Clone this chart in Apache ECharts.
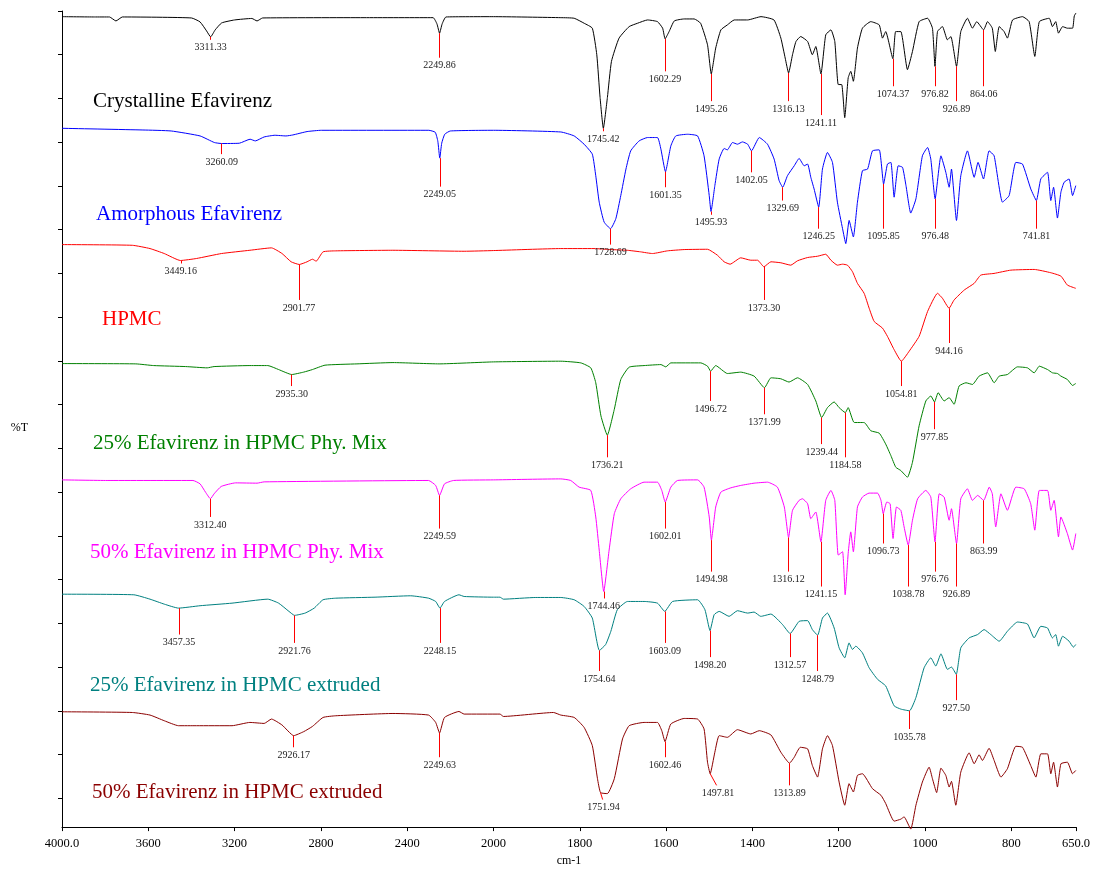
<!DOCTYPE html>
<html>
<head>
<meta charset="utf-8">
<script src="https://cdn.jsdelivr.net/npm/echarts@6/dist/echarts.min.js"></script>
<style>
  html, body { margin: 0; padding: 0; background: #fff; }
  #chart { width: 1094px; height: 872px; }
</style>
</head>
<body>
<div id="chart"></div>
<script>
// ---------------- DATA (wavenumber cm-1, stacked %T value) ----------------
const tickWavenumbers = [4000, 3600, 3200, 2800, 2400, 2000, 1800, 1600, 1400, 1200, 1000, 800, 650];

const seriesNames = [
  'Crystalline Efavirenz',
  'Amorphous Efavirenz',
  'HPMC',
  '25% Efavirenz in HPMC Phy. Mix',
  '50% Efavirenz in HPMC Phy. Mix',
  '25% Efavirenz in HPMC extruded',
  '50% Efavirenz in HPMC extruded'
];

const crystalline = [
  [4000,815.3],[3850,815],[3780,815],[3750,811],[3720,815],[3400,814],[3360,810],[3330,801],[3311,795],[3290,802],[3260,809],
  [3200,812],[3120,813.5],[3096,811],[3070,814],[2600,814.3],[2280,814.3],[2262,808],[2250,798.7],[2238,808],[2220,815],[2000,815.3],
  [1844,814.3],[1813,813.7],[1790,808.7],[1771,803.7],[1760.6,777],[1753,734],[1745.4,703],[1736,734],[1726.6,770.3],[1709,793.7],
  [1685.6,805.3],[1666,808.7],[1643,812],[1620,810.3],[1608,803.7],[1602.3,793],[1593,800.3],[1581,811],[1558,813],[1535,813],
  [1520,808.7],[1504,787],[1495.3,757.7],[1485,783.7],[1473,802],[1458,807],[1442,812],[1411,812],[1380,815.3],[1350,812],
  [1334,793.7],[1324,773.7],[1316.1,758.7],[1307,777],[1299,790.3],[1288,795.3],[1272,790.3],[1261,777],[1253,785.3],[1241.1,757.7],
  [1230,797],[1218,802],[1209,790.3],[1201,747],[1193,747],[1186,713.7],[1178,753.7],[1172,760.3],[1166,750.3],[1156.5,783.7],
  [1145,803.7],[1125.6,810.3],[1106,807],[1098.5,793.7],[1091,800.3],[1074.4,773],[1068,800.3],[1056,800.3],[1040.6,762],[1029,780.3],
  [1013.6,810.3],[994,813.7],[982.7,803.7],[976.8,765.3],[971,800.3],[959.5,805.3],[948,792],[940,795.3],[926.9,765.3],[917,800.3],
  [901.6,813.7],[890,803.7],[880,810.3],[864.1,802],[855,810.3],[844,803.7],[837,780.3],[828,805.3],[816.6,800.3],[809,793.7],
  [797,812],[774,815.3],[758.6,810.3],[745.5,775.3],[735,810.3],[712,813.7],[704.6,805.3],[697,810.3],[690.6,798.7],[681,805.3],
  [670,803.7],[658,803.7],[654,816],[650,819]
];

const amorphous = [
  [4000,703],[3625,701.3],[3494,700.3],[3360,695.3],[3294,688.7],[3261,687.7],[3178,688],[3128,692],[3104,690.3],[3063,694.3],
  [3013,696],[2962,695.3],[2930,696.3],[2864,699.7],[2798,701],[2300,701],[2270,699],[2258,690],[2249,673],[2240,688],[2226,697],
  [2200,700.3],[2000,701],
  [1844,699.3],[1813,695.3],[1790,687],[1771,677],[1763,655.3],[1755,628.7],[1743.6,608.7],[1728.7,602],[1716.5,612],[1705,635.3],
  [1693,662],[1682,680.3],[1662.5,690.3],[1643,693.7],[1620,693.7],[1612,682],[1601.4,659.3],[1589,685.3],[1577.5,695.3],[1550,697],
  [1527,695.3],[1512,675.3],[1500,635.3],[1495.9,619.3],[1487,645.3],[1477,672],[1465.5,682.7],[1458,681.3],[1446,688.7],[1434.6,687],
  [1423,689.3],[1411,687],[1402,680.3],[1384,693.7],[1365,687],[1349.6,672],[1338,650.3],[1329.7,643.7],[1318.7,655.3],[1303,665.3],
  [1291.7,672.7],[1280,665.3],[1272,667],[1264.6,653.7],[1257,642],[1246.3,623.7],[1237.6,662],[1226,678.7],[1214.4,668.7],[1203,628.7],
  [1191,602],[1183.5,587],[1175.8,610.3],[1166,593.7],[1156.5,628.7],[1145,660.3],[1133,662],[1121.7,680.3],[1106,681.3],[1095.9,647],
  [1087,667],[1079,668.7],[1071.5,633.7],[1062,665.3],[1052,663.7],[1044,645.3],[1033,617.7],[1021,632],[1006,675.3],[994,683.7],
  [986.5,672],[976.5,632],[963,675.3],[951.7,658.7],[944,643.7],[938.6,662],[927,610.3],[917,655.3],[901.6,680.3],[886,653.7],
  [877,668.7],[864.4,652],[851.4,680.3],[839.7,675.3],[820.4,628.7],[805,635.3],[789.5,668.7],[774,667],[754.8,642],[741.8,630.3],
  [731.6,652],[716,658.7],[708.4,630.3],[702,643.7],[693,612.7],[685,638.7],[677.5,648.7],[666,652],[658,635.3],[650.5,645.3]
];

const hpmc = [
  [4000,586],[3674,585.3],[3592,582],[3526,577],[3451,570],[3377,572],[3261,577],[3129,580.3],[3029,582.7],[2980,577],[2938,568.7],
  [2900,566],[2864,568.7],[2839,571.3],[2822,569.3],[2790,578.7],[2731,579.7],[2467,580.3],[2136,579.3],[2000,580],
  [1844,582],[1767,582],[1728,581],[1690,580.3],[1659,578.7],[1631.6,577],[1597,579.7],[1558,581],[1504,581.3],[1481,575.3],
  [1465.5,568.7],[1451.6,566.3],[1427,572.7],[1403.7,570.3],[1388,570.3],[1373.3,563.7],[1357,568.7],[1334,567.7],[1311,565.3],
  [1295.5,569.7],[1272,573],[1249,574.3],[1230,576.3],[1218,570.3],[1203,565.3],[1191,566.3],[1179.6,565.3],[1168,558.7],[1156.5,547],
  [1141,537],[1129.4,522],[1117.8,508.7],[1098.5,502],[1087,493.7],[1071.5,480.3],[1054.8,468.7],[1036.7,478.7],[1013.6,493.7],
  [994,518.7],[971,537],[959.5,532],[944.2,522],[932.5,530.3],[909,540.3],[886,547],[870.7,555.3],[840,557],[801,560.3],[747,561],
  [708.4,557.7],[685,554.3],[670,545.3],[650.5,542]
];

const pm25 = [
  [4000,466.3],[3658,466],[3575,464.3],[3427,463.3],[3327,462],[3295,463.3],[3129,464.3],[3046,464.3],[2996,460.3],[2935,455.3],
  [2880,457.7],[2839,460.3],[2781,464.7],[2633,466],[2466,467.3],[2252,466],[2000,468],
  [1844,468.7],[1797.6,467],[1774.5,462],[1763,447],[1751,413.7],[1736.2,394.3],[1720,420.3],[1705,450.3],[1685.6,462.7],[1651,464.3],
  [1612,465.3],[1600.7,463],[1589,467],[1519.5,467],[1504,463.7],[1496.7,458.7],[1485,464.3],[1458,456.3],[1427,457.7],[1396,453.7],
  [1372,442],[1357,452],[1334,451],[1315,447.7],[1295.5,452],[1272,445.3],[1253,428.7],[1239.4,412],[1226,422],[1210.5,427.7],
  [1199,422],[1184.6,417],[1178,422],[1164,407],[1141,407],[1125.6,398.7],[1106,396.3],[1091,385.3],[1079,373.7],[1067.6,362],
  [1056,358.7],[1040.6,352],[1029,367],[1013.6,403.7],[998,428.7],[986.5,433.7],[977.9,427.7],[969.5,437],[955.6,428.7],[944,432],
  [932.5,425.3],[921,443.7],[905,447],[890,445.3],[874.5,453.7],[855,457],[839.7,447],[828,453.7],[809,455.3],[785.7,463],
  [762.5,462],[747,457],[735,463.7],[716,460.3],[704.6,457],[693,456.3],[685,453.7],[670,450.3],[658,444.3],[650.5,446.3]
];

const pm50 = [
  [4000,349.3],[3791,348.7],[3393,348.7],[3360,345.3],[3335,337],[3312,330.3],[3295,335.3],[3262,342.7],[3195,346.3],[3096,346],
  [3063,347.3],[2301,348.7],[2268,343.7],[2250,333.7],[2227,345.3],[2185,348.7],[2000,349.3],
  [1844,350.3],[1821,348.7],[1801.5,342],[1774.5,338.7],[1763,312],[1755,278.7],[1744.5,237],[1732,278.7],[1720,315.3],[1705,330.3],
  [1682,340.3],[1651,347],[1620,347],[1610,338.7],[1602,327],[1589,342],[1573.6,348.7],[1527,349.3],[1512,342],[1500,312],[1495,288.7],
  [1485,322],[1473,337],[1450,341.3],[1427,343.7],[1396,346],[1365,347],[1342,342],[1326,322],[1316.1,291.3],[1307,318.7],
  [1291.7,328.7],[1284,330.3],[1272,325.3],[1264.6,310.3],[1253,317],[1241.2,287],[1230,328.7],[1218,338.7],[1209,328.7],[1201,273.7],
  [1191,277],[1185,233.7],[1178,275.3],[1172,297],[1166,277],[1156.5,322],[1145,332],[1129.5,336],[1110,336],[1102,328.7],
  [1096.7,315.3],[1088.5,327],[1080.8,325.3],[1074,290.3],[1066,322],[1056,318.7],[1048.4,302],[1038.8,283.7],[1029,308.7],
  [1017,330.3],[998,338.7],[986.5,332],[976.8,287],[967,335.3],[955.6,332],[944,308.7],[938.6,320.3],[926.9,285.3],[917,330.3],
  [901.6,340.3],[890,328.7],[878,333.7],[864,328.7],[851,342],[844,335.3],[836,302],[824,335.3],[809,318.7],[789.5,342],[770,340.3],
  [755,325.3],[745.5,298.7],[735,338.7],[716,338.7],[708.4,318.7],[700.7,328.7],[690.6,292],[685,312],[670,295.3],[658,278.7],[650.5,295.3]
];

const ext25 = [
  [4000,234.3],[3667,233.7],[3592,229.3],[3526,224.3],[3460,220.3],[3360,222.7],[3212,225.3],[3046,229.3],[2996,225.3],[2948,217],
  [2922,213],[2873,215.3],[2831,220.3],[2790,228.7],[2731,230.3],[2549,231.3],[2384,232.7],[2301,230.3],[2268,227],[2248,220.3],
  [2227,227],[2160,233.7],[2136,232],[2000,231.3],[1985,231.3],[1977,229.3],[1902,231],
  [1844,231],[1813,228.7],[1790,222],[1771,210.3],[1754.6,177.7],[1740,183.7],[1728,197],[1713,218.7],[1689.5,227],[1651,227],
  [1620,225.3],[1603.1,217],[1585,227],[1527,228.7],[1510,218.7],[1498.2,197.7],[1488.6,213.7],[1477,217],[1454,212],[1434.6,217.7],
  [1411,215.3],[1396,216.3],[1380.5,212],[1357,214.3],[1330,203.7],[1312.6,194.7],[1291.7,207],[1272,207.7],[1261,198.7],[1248.8,193],
  [1237.6,210.3],[1226,215.3],[1210.5,200.3],[1199,180.3],[1186,170.3],[1176,185.3],[1168,178.7],[1160.3,182],[1145,175.3],
  [1129.5,160.3],[1110,148.7],[1091,142],[1071.5,122],[1056,118.7],[1035.8,117],[1021,130.3],[1002,160.3],[986.5,170.3],[975,162],
  [963,174.3],[948,158.7],[938.6,161],[927.5,153.7],[917,180.3],[897.7,190.3],[878,193.7],[863,198.7],[847.5,193.7],[828,187],
  [809,197],[785.7,206.3],[762.5,204.3],[747,190.3],[731.6,202],[716,200.3],[704.6,190.3],[697,193.7],[690.6,182],[681,192],
  [666,187],[656,181],[650.5,183.7]
];

const ext50 = [
  [4000,116],[3674,115.3],[3592,112.7],[3526,107],[3460,102],[3377,102],[3212,102],[3129,105.3],[3063,104.3],[3029,108.7],[2980,102.7],
  [2926,92],[2880,96],[2839,101.3],[2790,110.3],[2731,112],[2466,114.3],[2301,112.7],[2268,105.3],[2250,94.7],[2227,110.3],[2160,116.3],
  [2136,113.7],[1985,113.7],[1977,111.3],[1861,115.3],
  [1844,112.7],[1813,110.3],[1790,100.3],[1771,82],[1759,48.7],[1751.9,34.7],[1736,33.7],[1720,48.7],[1701,88.7],[1685.6,102],
  [1651,105.3],[1620,105.3],[1610,97],[1602.5,86],[1589,103.7],[1558,109.3],[1527,108.7],[1512,98.7],[1504,65.3],[1497.8,53.7],
  [1487,75.3],[1477,92],[1458,90.3],[1434.6,98],[1403.7,93.7],[1384,97],[1357,92.7],[1334,75.3],[1313.9,64.3],[1303,70.3],[1289,80.3],
  [1272,78.7],[1261,62],[1249,50.3],[1237.6,78.7],[1226,92],[1214.4,82],[1199,45.3],[1186,22],[1176,43.7],[1166,35.3],[1156.5,52],
  [1145,53.7],[1121.7,38.7],[1102,32],[1091,23.7],[1071.5,6],[1056,8],[1048.4,10.3],[1033,-2],[1021,22],[1006,45.3],[990.4,60.3],
  [982.7,48.7],[973,34.7],[963,59.3],[951.7,52],[944,40.3],[938.6,46],[928.6,22],[917,55.3],[897.7,74.7],[886,63.7],[874.5,72.7],
  [867,67],[851.4,79.3],[839.7,67],[824,50.3],[809,58.7],[789.5,81.3],[774,80.3],[755,62],[743,50.3],[731.6,73.7],[716,73.7],
  [708.4,53.7],[702,65.3],[693,40.3],[685,63.7],[670,65.3],[658,53.7],[650.5,57]
];

// peak annotations: [labelled wavenumber, value at peak, value at leader end, (optional) wavenumber at leader end]
const crystallinePeaks = [[3311.33,795,792],[2249.86,798.7,774],[1745.42,703,700],[1602.29,793,760.3],[1495.26,757.7,730.3],
  [1316.13,758.7,730.3],[1241.11,757.7,716.3],[1074.37,773,745.3],[976.82,765.3,745.3],[926.89,765.3,730.3],[864.06,802,745.3]];
const amorphousPeaks = [[3260.09,687.7,677],[2249.05,673,644.3],[1728.69,602,586],[1601.35,659.3,643.7],[1495.93,619.3,616],
  [1402.05,680.3,658.7],[1329.69,643.7,630.3],[1246.25,623.7,602],[1095.85,647,602],[976.48,632,602],[741.81,630.3,602]];
const hpmcPeaks = [[3449.16,570,567],[2901.77,566,530.3],[1373.30,563.7,530.3],[1054.81,468.7,443.7],[944.16,522,487]];
const pm25Peaks = [[2935.30,455.3,443.7],[1736.21,394.3,372],[1496.72,458.7,428.7],[1371.99,442,415.3],[1239.44,412,385.3],
  [1184.58,417,372],[977.85,427.7,400.3]];
const pm50Peaks = [[3312.40,330.3,312],[2249.59,333.7,300.3],[1744.46,237,230],[1602.01,327,300.3],[1494.98,288.7,257],
  [1316.12,291.3,257],[1241.15,287,242],[1096.73,315.3,285.3],[1038.78,283.7,242],[976.76,287,257],[926.89,285.3,242],[863.99,328.7,285.3]];
const ext25Peaks = [[3457.35,220.3,193.7],[2921.76,213,185.3],[2248.15,220.3,185.3],[1754.64,177.7,157],[1603.09,217,185.3],
  [1498.20,197.7,171],[1312.57,194.7,171],[1248.79,193,157],[1035.78,117,98.7],[927.50,153.7,127.7]];
const ext50Peaks = [[2926.17,92,80.3],[2249.63,94.7,70.3],[1751.94,34.7,27.7,1747],[1602.46,86,70.3],[1497.81,53.7,42,1483],
  [1313.89,64.3,42]];

// ---------------- LAYOUT / STYLE ----------------
const colors = ['#000000', '#0000ff', '#ff0000', '#008000', '#ff00ff', '#008080', '#8b0000'];
const spectra = [crystalline, amorphous, hpmc, pm25, pm50, ext25, ext50];
const peakSets = [crystallinePeaks, amorphousPeaks, hpmcPeaks, pm25Peaks, pm50Peaks, ext25Peaks, ext50Peaks];
const namePos = [[93, 91], [96, 204], [102, 309], [93, 433], [90, 542], [90, 675], [92, 782]];
const FONT = '"Liberation Serif", "Times New Roman", serif';

// The x axis is split: 4000-2000 at half the scale of 2000-650 (as on the instrument printout)
function toAxis(w) { return w >= 2000 ? (4000 - w) / 2 : 3000 - w; }
function fromAxis(u) { return u <= 1000 ? 4000 - 2 * u : 3000 - u; }

const Y_MAX = 821;
const yTicks = [];
for (let k = 0; k <= 18; k++) yTicks.push(Y_MAX - 44 * k);

const series = spectra.map((pts, i) => ({
  type: 'line',
  name: seriesNames[i],
  data: pts.map(p => [toAxis(p[0]), p[1]]),
  symbol: 'none',
  showSymbol: false,
  smooth: 0.15,
  clip: false,
  lineStyle: { color: colors[i], width: 1 },
  itemStyle: { color: colors[i] },
  emphasis: { disabled: true },
  markLine: {
    silent: true,
    symbol: ['none', 'none'],
    animation: false,
    lineStyle: { color: '#ff0000', width: 1, type: 'solid' },
    emphasis: { disabled: true },
    label: {
      show: true, position: 'end', distance: 3, formatter: '{b}',
      color: '#222', fontSize: 10, fontFamily: FONT
    },
    data: peakSets[i].map(k => [
      { name: k[0].toFixed(2), coord: [toAxis(k[0]), k[1]] },
      { coord: [toAxis(k.length > 3 ? k[3] : k[0]), k[2]] }
    ])
  }
}));

const chart = echarts.init(document.getElementById('chart'), null, { renderer: 'canvas' });
chart.setOption({
  animation: false,
  backgroundColor: '#ffffff',
  grid: { left: 62, right: 18, top: 11, bottom: 40, containLabel: false },
  xAxis: {
    type: 'value', min: 0, max: toAxis(650),
    name: 'cm-1', nameLocation: 'middle', nameGap: 21,
    nameTextStyle: { color: '#000', fontSize: 12, fontFamily: FONT },
    axisLine: { show: true, onZero: false, lineStyle: { color: '#000', width: 1 } },
    axisTick: { show: true, length: 4, customValues: tickWavenumbers.map(toAxis), lineStyle: { color: '#000' } },
    axisLabel: {
      show: true, margin: 10, color: '#000', fontSize: 12.5, fontFamily: FONT,
      customValues: tickWavenumbers.map(toAxis),
      formatter: v => {
        const w = Math.round(fromAxis(v));
        return (w === 4000 || w === 650) ? w.toFixed(1) : String(w);
      }
    },
    splitLine: { show: false }
  },
  yAxis: {
    type: 'value', min: 0, max: Y_MAX,
    name: '%T', nameLocation: 'middle', nameGap: 34, nameRotate: 0,
    nameTextStyle: { color: '#000', fontSize: 12, fontFamily: FONT, verticalAlign: 'top', padding: [3, 0, 0, 0] },
    axisLine: { show: true, onZero: false, lineStyle: { color: '#000', width: 1 } },
    axisTick: { show: true, length: 4, customValues: yTicks, lineStyle: { color: '#000' } },
    axisLabel: { show: false },
    splitLine: { show: false }
  },
  graphic: seriesNames.map((n, i) => ({
    type: 'text', left: namePos[i][0], top: namePos[i][1], silent: true,
    style: { text: n, fill: colors[i], font: '21px ' + FONT }
  })),
  series: series
});
</script>
</body>
</html>
